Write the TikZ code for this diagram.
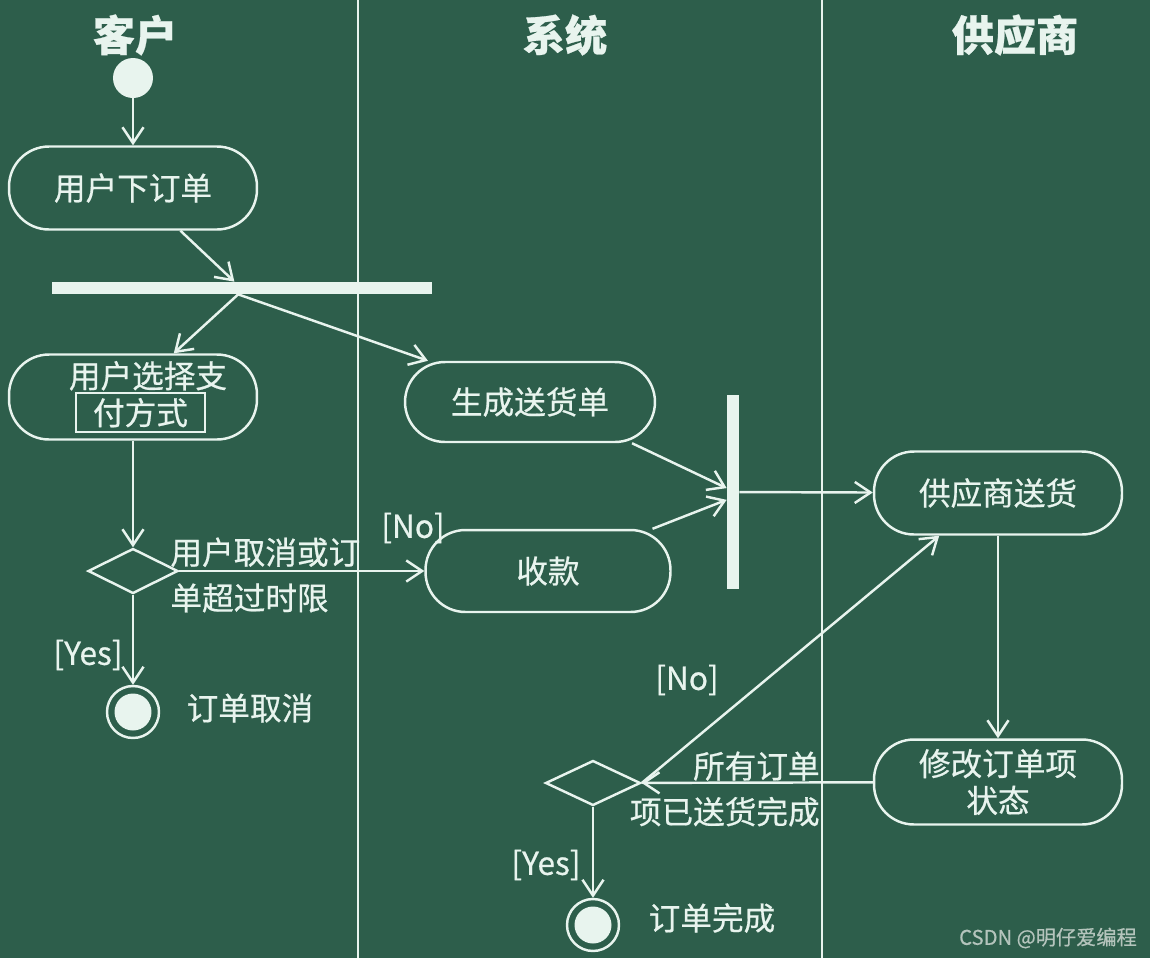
\documentclass[tikz,border=0pt]{standalone}
\usepackage{fontspec}
\setmainfont{Noto Sans CJK SC}[FakeBold=0.6]
\usepackage{tikz}
\usetikzlibrary{shapes.geometric,arrows.meta,calc}
\definecolor{board}{HTML}{2D5E4B}
\definecolor{chalk}{HTML}{E8F4EE}
\definecolor{stamp}{HTML}{B4C4BC}

\begin{document}
\begin{tikzpicture}[x=0.02cm,y=-0.02cm,
  action/.style={rectangle,rounded corners=0.8cm,draw=chalk,line width=1.4pt,
    minimum width=4.96cm,minimum height=1.66cm,text=chalk,
    font=\fontsize{18}{21}\selectfont,align=center,inner sep=0pt},
  bar/.style={rectangle,fill=chalk,inner sep=0pt},
  branch/.style={diamond,draw=chalk,line width=1.4pt,minimum width=1.8cm,
    minimum height=0.9cm,inner sep=0pt},
  initial/.style={circle,fill=chalk,minimum size=0.8cm,inner sep=0pt},
  final/.style={circle,draw=chalk,line width=1.4pt,minimum size=1.04cm,inner sep=0pt,
    path picture={\fill[chalk] (path picture bounding box.center) circle (0.37cm);}},
  flow/.style={draw=chalk,line width=1.4pt,-{Straight Barb[length=9pt,width=12pt]}},
  guard/.style={text=chalk,font=\fontsize{18}{26}\selectfont,inner sep=0pt},
  lane/.style={text=chalk,font=\fontsize{24}{28}\selectfont\bfseries},
]
  \useasboundingbox (0,0) rectangle (1150,958);
  \fill[board] (0,0) rectangle (1150,958);
  \draw[chalk,line width=1.2pt] (358,0) -- (358,958);
  \draw[chalk,line width=1.2pt] (822,0) -- (822,958);

  \node[lane] (customer) at (135,35) {客户};
  \node[lane] (system) at (565,35) {系统};
  \node[lane] (vendor) at (1015,35) {供应商};

  \node[initial] (start) at (133,78) {};
  \node[action] (placeorder) at (133,188) {用户下订单};
  \node[bar,minimum width=7.6cm,minimum height=0.24cm] (fork) at (242,288) {};
  \node[action,minimum height=1.7cm] (paymethod) at (133,397)
    {\hspace*{0.6cm}用户选择支\\\hspace*{0.3cm}{\setlength\fboxrule{1.2pt}\setlength\fboxsep{2pt}%
      \fcolorbox{chalk}{board}{\makebox[2.4cm]{付方式}}}};
  \node[action,minimum width=5cm,minimum height=1.6cm] (delivery) at (530,402) {生成送货单};
  \node[branch] (cancelq) at (133,571) {};
  \node[action,minimum width=4.9cm,minimum height=1.64cm] (payment) at (548,571) {收款};
  \node[final] (cancelled) at (133,712) {};
  \node[bar,minimum width=0.24cm,minimum height=3.9cm] (join) at (733,492) {};
  \node[action] (ship) at (998,493) {供应商送货};
  \node[action,minimum height=1.7cm] (update) at (998,782) {修改订单项\\状态};
  \node[branch,minimum width=1.9cm] (doneq) at (593,783) {};
  \node[final] (completed) at (593,925) {};

  \node[guard] (nopay) at (413,528) {[No]};
  \node[guard] (yescancel) at (88,655) {[Yes]};
  \node[guard] (cancelledtxt) at (250,708) {订单取消};
  \node[guard] (noship) at (687,680) {[No]};
  \node[guard] (yesdone) at (546,865) {[Yes]};
  \node[guard] (completedtxt) at (712,918) {订单完成};
  \node[guard,align=right,anchor=east] (alldone) at (820,789) {所有订单\\项已送货完成};
  \node[text=stamp,font=\fontsize{11.5}{12}\selectfont] (watermark) at (1048,938) {CSDN @明仔爱编程};

  \draw[flow] (start) -- (placeorder);
  \draw[flow] (placeorder.-42) -- ($(fork.north west)!0.48!(fork.north east)$);
  \draw[flow] ($(fork.south west)!0.49!(fork.south east)$) -- (paymethod.47);
  \draw[flow] ($(fork.south west)!0.49!(fork.south east)$) -- (delivery.158);
  \draw[flow] (paymethod) -- (cancelq);
  \draw[flow] (cancelq) -- (payment)
    node[guard,pos=0,anchor=west,align=left,xshift=-0.2cm,yshift=-0.08cm] (timeout) {用户取消或订\\单超过时限};
  \draw[flow] (cancelq) -- (cancelled);
  \draw[flow] (delivery.-22) -- ($(join.north west)!0.48!(join.south west)$);
  \draw[flow] (payment.22) -- ($(join.north west)!0.54!(join.south west)$);
  \draw[flow] (join) -- (ship);
  \draw[flow] (ship) -- (update);
  \draw[flow] (update) -- (doneq);
  \draw[flow] (doneq.east) -- (ship.-144);
  \draw[flow] (doneq) -- (completed);
\end{tikzpicture}
\end{document}
